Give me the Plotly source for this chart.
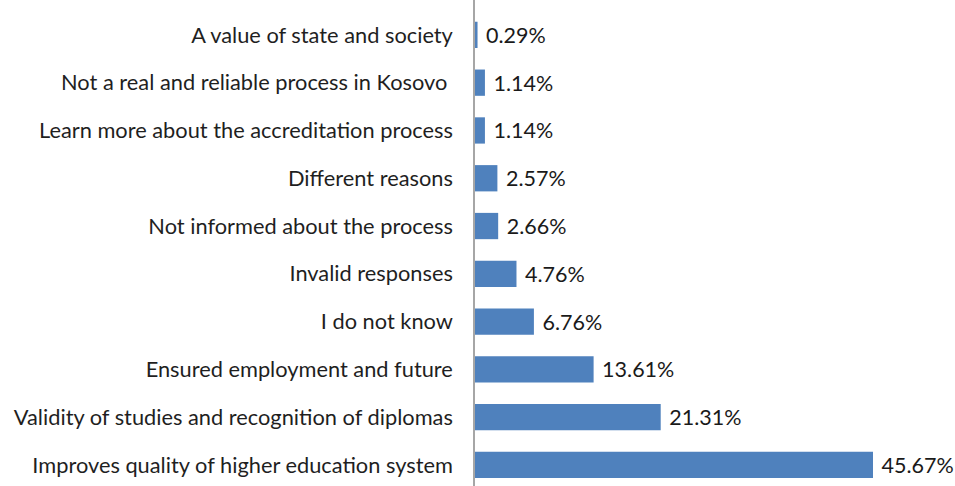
import plotly.graph_objects as go

# Survey responses, listed bottom to top as drawn on the category axis
categories = [
    "Improves quality of higher education system",
    "Validity of studies and recognition of diplomas",
    "Ensured employment and future",
    "I do not know",
    "Invalid responses",
    "Not informed about the process",
    "Different reasons",
    "Learn more about the accreditation process",
    "Not a real and reliable process in Kosovo ",
    "A value of state and society",
]
shares = [45.67, 21.31, 13.61, 6.76, 4.76, 2.66, 2.57, 1.14, 1.14, 0.29]
share_labels = ["45.67%", "21.31%", "13.61%", "6.76%", "4.76%",
                "2.66%", "2.57%", "1.14%", "1.14%", "0.29%"]

FONT = "Lato"

fig = go.Figure(
    go.Bar(
        x=shares,
        y=categories,
        orientation="h",
        marker=dict(color="#4F81BD", line=dict(width=0)),
        text=share_labels,
        texttemplate=" %{text}",
        textposition="outside",
        textfont=dict(family=FONT, size=21.5, color="#1a1a1a"),
        cliponaxis=False,
        width=0.55,
    )
)

fig.update_layout(
    width=955,
    height=486,
    margin=dict(l=475, r=0, t=0, b=0),
    paper_bgcolor="white",
    plot_bgcolor="white",
    showlegend=False,
    xaxis=dict(
        range=[0, 55.08],
        visible=False,
        showgrid=False,
        zeroline=False,
    ),
    yaxis=dict(
        type="category",
        categoryorder="array",
        categoryarray=categories,
        range=[-0.44, 9.73],
        showline=True,
        linecolor="#a6a6a6",
        linewidth=1.5,
        ticks="",
        showgrid=False,
        ticklabelstandoff=16,
        tickfont=dict(family=FONT, size=21.8, color="#1f1f1f"),
    ),
)

fig.write_html("out.html")
